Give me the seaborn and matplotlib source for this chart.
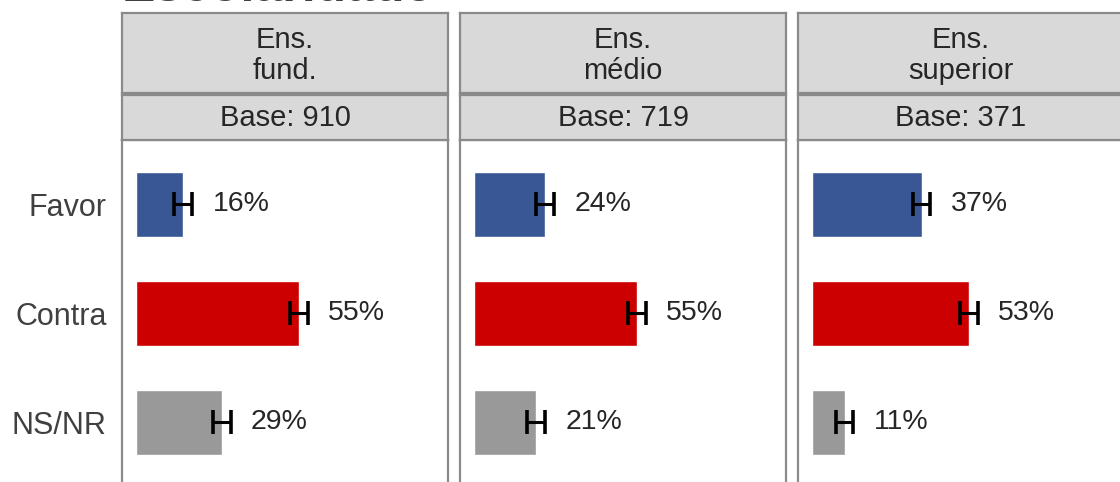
import matplotlib
matplotlib.use("Agg")
import matplotlib.pyplot as plt
import seaborn as sns
import pandas as pd

sns.set_theme(style="white")
plt.rcParams['font.family'] = ['Liberation Sans', 'DejaVu Sans']

title = "Escolaridade"
answers = ["Favor", "Contra", "NS/NR"]
groups = ["Ens.\nfund.", "Ens.\nmédio", "Ens.\nsuperior"]
bases = ["Base: 910", "Base: 719", "Base: 371"]
values = {
    "Ens.\nfund.": [16, 55, 29],
    "Ens.\nmédio": [24, 55, 21],
    "Ens.\nsuperior": [37, 53, 11],
}
margin = [3, 3, 3]
colors = ["#3a5795", "#cc0000", "#999999"]

W, H = 1120, 482
fig = plt.figure(figsize=(W / 100, H / 100), dpi=100)

def fx(px):
    return px / W

def fy(px_top, px_bottom):
    return (H - px_bottom) / H, (px_bottom - px_top) / H

edge = "#8a8a8a"
txt = "#262626"
lefts = [122, 460, 798]
pw = 326

for i, g in enumerate(groups):
    b, h = fy(140, 486.6)
    ax = fig.add_axes([fx(lefts[i]), b, fx(pw), h])
    df = pd.DataFrame({"answer": answers, "value": values[g]})
    sns.barplot(data=df, x="value", y="answer", hue="answer", palette=colors,
                order=answers, hue_order=answers, width=0.6, legend=False,
                ax=ax, saturation=1)
    ax.errorbar(values[g], range(len(answers)), xerr=margin, fmt="none",
                ecolor="black", elinewidth=2.2, capsize=8.4, capthick=2.6,
                zorder=5)
    for c, v in zip(ax.containers, values[g]):
        ax.bar_label(c, labels=[f"{v}%"], padding=21, fontsize=20.5, color=txt)
    ax.set_xlim(-4.7, 105.3)
    ax.set_ylim(2.59, -0.59)
    ax.set_xlabel("")
    ax.set_ylabel("")
    ax.set_xticks([])
    if i == 0:
        ax.tick_params(axis="y", length=0, pad=11, labelsize=22, labelcolor="#404040")
    else:
        ax.set_yticks([])
    for s in ax.spines.values():
        s.set_color(edge)
        s.set_linewidth(1.6)

    # strip 1
    b1, h1 = fy(13, 93)
    s1 = fig.add_axes([fx(lefts[i]), b1, fx(pw), h1], facecolor="#d9d9d9")
    s1.set_xticks([]); s1.set_yticks([])
    for s in s1.spines.values():
        s.set_color(edge); s.set_linewidth(1.6)
    s1.text(0.5, 0.47, g, ha="center", va="center", fontsize=21, color=txt,
            linespacing=1.15, transform=s1.transAxes)
    # strip 2
    b2, h2 = fy(95, 140)
    s2 = fig.add_axes([fx(lefts[i]), b2, fx(pw), h2], facecolor="#d9d9d9")
    s2.set_xticks([]); s2.set_yticks([])
    for s in s2.spines.values():
        s.set_color(edge); s.set_linewidth(1.6)
    s2.text(0.5, 0.48, bases[i], ha="center", va="center", fontsize=21,
            color=txt, transform=s2.transAxes)

fig.text(fx(122), 1 - 1 / H, title, ha="left", va="baseline", fontsize=36,
         fontweight="bold", color="#404040")

fig.savefig("out.png", dpi=100)
